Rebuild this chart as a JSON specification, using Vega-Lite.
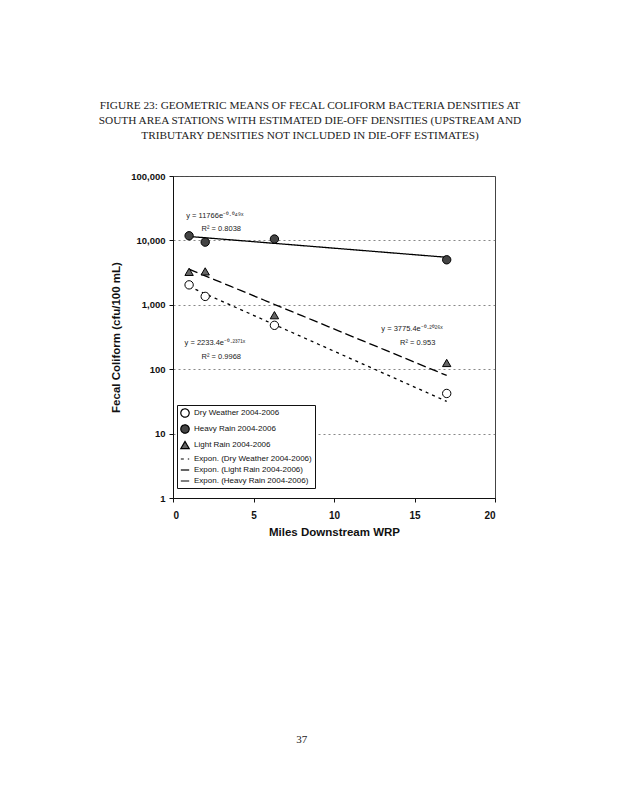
{
  "$schema": "https://vega.github.io/schema/vega-lite/v6.json",
  "autosize": "none",
  "width": 322,
  "height": 322,
  "padding": {"left": 173, "top": 176, "right": 124, "bottom": 302},
  "background": "white",
  "title": {
    "text": [
      "FIGURE 23: GEOMETRIC MEANS OF FECAL COLIFORM BACTERIA DENSITIES AT",
      "SOUTH AREA STATIONS WITH ESTIMATED DIE-OFF DENSITIES (UPSTREAM AND",
      "TRIBUTARY DENSITIES NOT INCLUDED IN DIE-OFF ESTIMATES)"
    ],
    "font": "Liberation Serif",
    "fontSize": 11.3,
    "fontWeight": "normal",
    "color": "#222",
    "lineHeight": 15,
    "offset": 30,
    "anchor": "middle",
    "frame": "group",
    "dx": -24
  },
  "datasets": {
    "obs": [
      {"miles": 1, "density": 2040, "series": "Dry Weather 2004-2006", "trend": "Expon. (Dry Weather 2004-2006)"},
      {"miles": 2, "density": 1350, "series": "Dry Weather 2004-2006", "trend": "Expon. (Dry Weather 2004-2006)"},
      {"miles": 6.3, "density": 480, "series": "Dry Weather 2004-2006", "trend": "Expon. (Dry Weather 2004-2006)"},
      {"miles": 17, "density": 42, "series": "Dry Weather 2004-2006", "trend": "Expon. (Dry Weather 2004-2006)"},
      {"miles": 1, "density": 11800, "series": "Heavy Rain 2004-2006", "trend": "Expon. (Heavy Rain 2004-2006)"},
      {"miles": 2, "density": 9400, "series": "Heavy Rain 2004-2006", "trend": "Expon. (Heavy Rain 2004-2006)"},
      {"miles": 6.3, "density": 10500, "series": "Heavy Rain 2004-2006", "trend": "Expon. (Heavy Rain 2004-2006)"},
      {"miles": 17, "density": 5000, "series": "Heavy Rain 2004-2006", "trend": "Expon. (Heavy Rain 2004-2006)"},
      {"miles": 1, "density": 3250, "series": "Light Rain 2004-2006", "trend": "Expon. (Light Rain 2004-2006)"},
      {"miles": 2, "density": 3300, "series": "Light Rain 2004-2006", "trend": "Expon. (Light Rain 2004-2006)"},
      {"miles": 6.3, "density": 690, "series": "Light Rain 2004-2006", "trend": "Expon. (Light Rain 2004-2006)"},
      {"miles": 17, "density": 125, "series": "Light Rain 2004-2006", "trend": "Expon. (Light Rain 2004-2006)"}
    ],
    "eqs": [
      {"miles": 2.6, "density": 24000, "label": "y = 11766e⁻⁰·⁰⁴⁹ˣ"},
      {"miles": 3.0, "density": 15100, "label": "R² = 0.8038"},
      {"miles": 2.6, "density": 257, "label": "y = 2233.4e⁻⁰·²³⁷¹ˣ"},
      {"miles": 3.0, "density": 156, "label": "R² = 0.9968"},
      {"miles": 14.85, "density": 425, "label": "y = 3775.4e⁻⁰·²⁰²⁶ˣ"},
      {"miles": 15.2, "density": 257, "label": "R² = 0.953"}
    ],
    "page": [{"label": "37"}]
  },
  "layer": [
    {
      "data": {"name": "obs"},
      "transform": [
        {"regression": "density", "on": "miles", "method": "exp", "groupby": ["trend"]}
      ],
      "mark": {"type": "line", "color": "black", "strokeWidth": 1.3},
      "encoding": {
        "x": {
          "field": "miles", "type": "quantitative",
          "scale": {"domain": [0, 20], "nice": false},
          "axis": {
            "values": [0, 5, 10, 15, 20],
            "grid": false,
            "labelFontSize": 10,
            "labelFontWeight": "bold",
            "labelPadding": 8,
            "tickSize": 4,
            "title": "Miles Downstream WRP",
            "titleFontSize": 11.5,
            "titleFontWeight": "bold",
            "titlePadding": 6
          }
        },
        "y": {
          "field": "density", "type": "quantitative",
          "scale": {"type": "log", "domain": [1, 100000], "nice": false},
          "axis": {
            "values": [1, 10, 100, 1000, 10000, 100000],
            "format": ",",
            "grid": true,
            "gridDash": [2, 3],
            "gridColor": "#555",
            "gridWidth": 0.7,
            "labelFontSize": 9.5,
            "labelFontWeight": "bold",
            "labelPadding": 4,
            "tickSize": 4,
            "title": "Fecal Coliform (cfu/100 mL)",
            "titleFontSize": 11.5,
            "titleFontWeight": "bold",
            "titlePadding": 9
          }
        },
        "strokeDash": {
          "field": "trend", "type": "nominal",
          "scale": {
            "domain": ["Dry Weather 2004-2006", "Heavy Rain 2004-2006", "Light Rain 2004-2006", "Expon. (Dry Weather 2004-2006)", "Expon. (Light Rain 2004-2006)", "Expon. (Heavy Rain 2004-2006)"],
            "range": [[1, 0], [1, 0], [1, 0], [3, 4], [9, 4], [1, 0]]
          },
          "legend": {"encode": {"symbols": {"update": {"stroke": {"value": "black"}, "strokeWidth": {"value": 1.2}}}}}
        }
      }
    },
    {
      "data": {"name": "obs"},
      "mark": {"type": "point", "filled": true, "stroke": "black", "strokeWidth": 1, "opacity": 1},
      "encoding": {
        "x": {"field": "miles", "type": "quantitative"},
        "y": {"field": "density", "type": "quantitative"},
        "shape": {
          "field": "series", "type": "nominal",
          "scale": {
            "domain": ["Dry Weather 2004-2006", "Heavy Rain 2004-2006", "Light Rain 2004-2006", "Expon. (Dry Weather 2004-2006)", "Expon. (Light Rain 2004-2006)", "Expon. (Heavy Rain 2004-2006)"],
            "range": ["circle", "circle", "triangle-up", "stroke", "stroke", "stroke"]
          },
          "legend": {"encode": {"symbols": {"update": {"stroke": {"value": "black"}, "strokeWidth": {"value": 1.2}}}}}
        },
        "fill": {
          "field": "series", "type": "nominal",
          "scale": {
            "domain": ["Dry Weather 2004-2006", "Heavy Rain 2004-2006", "Light Rain 2004-2006", "Expon. (Dry Weather 2004-2006)", "Expon. (Light Rain 2004-2006)", "Expon. (Heavy Rain 2004-2006)"],
            "range": ["white", "#444", "#666", "transparent", "transparent", "transparent"]
          },
          "legend": {"encode": {"symbols": {"update": {"stroke": {"value": "black"}, "strokeWidth": {"value": 1.2}}}}}
        },
        "size": {
          "field": "series", "type": "nominal",
          "scale": {
            "domain": ["Dry Weather 2004-2006", "Heavy Rain 2004-2006", "Light Rain 2004-2006", "Expon. (Dry Weather 2004-2006)", "Expon. (Light Rain 2004-2006)", "Expon. (Heavy Rain 2004-2006)"],
            "range": [70, 70, 70, 900, 900, 900]
          },
          "legend": {"encode": {"symbols": {"update": {"stroke": {"value": "black"}, "strokeWidth": {"value": 1.2}}}}}
        }
      }
    },
    {
      "data": {"name": "eqs"},
      "mark": {"type": "text", "font": "Liberation Sans", "fontSize": 7.5, "color": "#222", "align": "center", "baseline": "middle"},
      "encoding": {
        "x": {"field": "miles", "type": "quantitative"},
        "y": {"field": "density", "type": "quantitative"},
        "text": {"field": "label"}
      }
    },
    {
      "data": {"name": "page"},
      "mark": {"type": "text", "font": "Liberation Serif", "fontSize": 11, "color": "#222", "align": "center", "baseline": "middle"},
      "encoding": {
        "x": {"datum": 8},
        "y": {"datum": 0.000174},
        "text": {"field": "label"}
      }
    }
  ],
  "config": {
    "view": {"stroke": "#444", "strokeWidth": 1},
    "axis": {
      "labelFont": "Liberation Sans",
      "titleFont": "Liberation Sans",
      "labelColor": "#111",
      "titleColor": "#111",
      "domainColor": "#111",
      "tickColor": "#111"
    },
    "legend": {
      "orient": "none",
      "legendX": 4,
      "legendY": 229,
      "title": null,
      "strokeColor": "#111",
      "fillColor": "white",
      "padding": 3,
      "labelFont": "Liberation Sans",
      "labelFontSize": 8,
      "labelColor": "#111",
      "labelOffset": 4,
      "rowPadding": 2,
      "symbolStrokeColor": "black",
      "symbolStrokeWidth": 1
    }
  }
}
